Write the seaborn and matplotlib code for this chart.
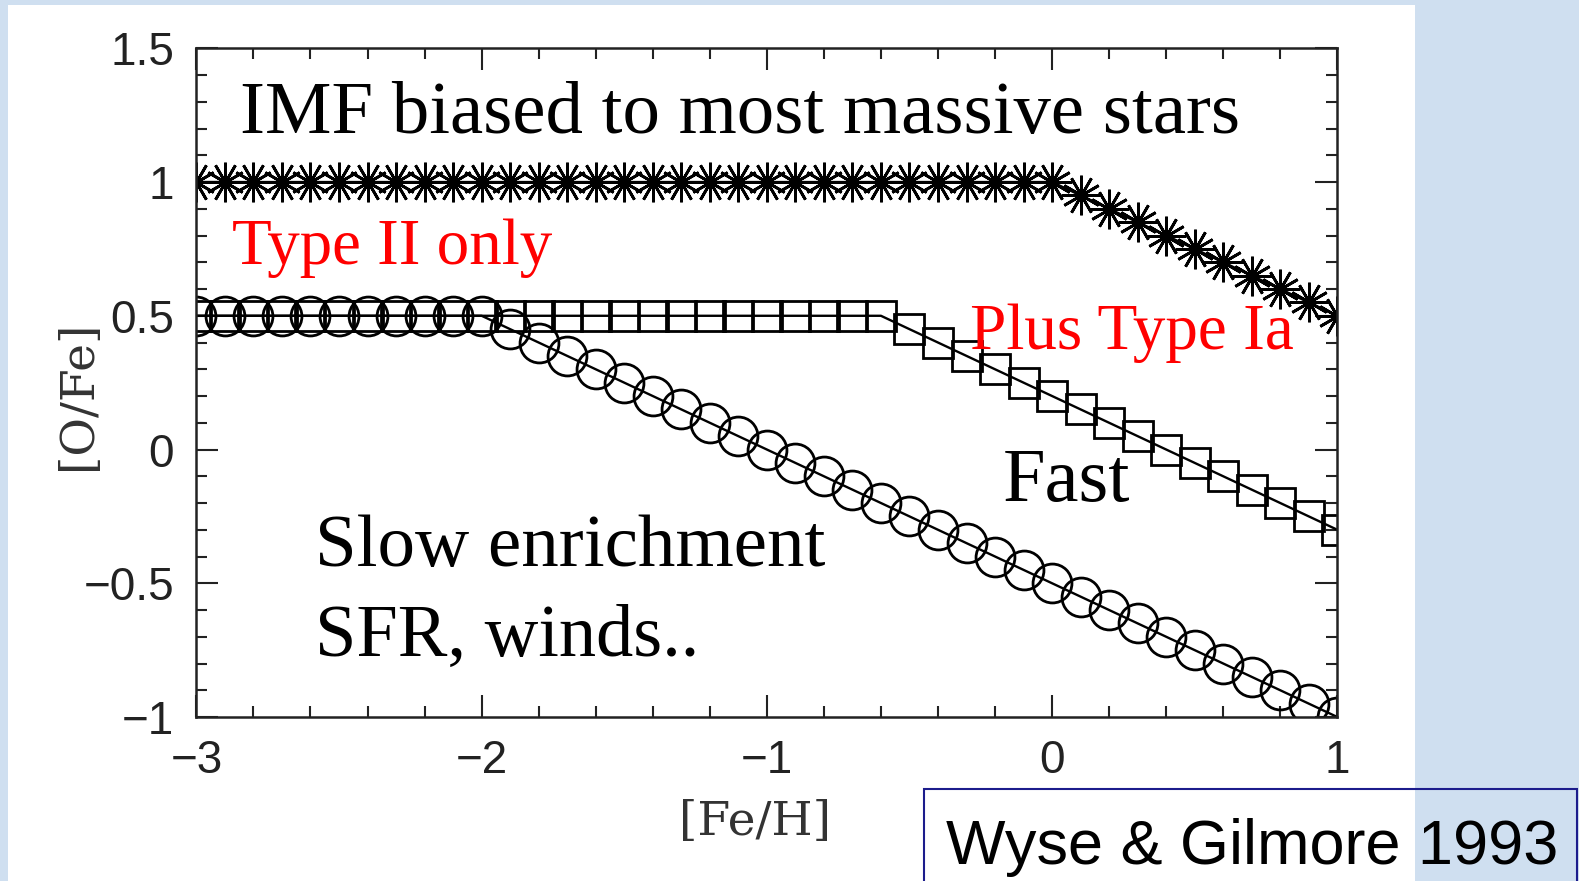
import matplotlib
matplotlib.use("Agg")
import matplotlib.pyplot as plt
from matplotlib.patches import Rectangle
from matplotlib.ticker import MultipleLocator, FixedLocator, FixedFormatter
import numpy as np
import pandas as pd
import seaborn as sns

# [Fe/H] grid shared by the three model tracks
fe_h = [-3.0, -2.9, -2.8, -2.7, -2.6, -2.5, -2.4, -2.3, -2.2, -2.1,
        -2.0, -1.9, -1.8, -1.7, -1.6, -1.5, -1.4, -1.3, -1.2, -1.1,
        -1.0, -0.9, -0.8, -0.7, -0.6, -0.5, -0.4, -0.3, -0.2, -0.1,
        0.0, 0.1, 0.2, 0.3, 0.4, 0.5, 0.6, 0.7, 0.8, 0.9, 1.0]

# [O/Fe] for the IMF biased to the most massive stars (asterisks)
o_fe_massive = [1.0, 1.0, 1.0, 1.0, 1.0, 1.0, 1.0, 1.0, 1.0, 1.0,
                1.0, 1.0, 1.0, 1.0, 1.0, 1.0, 1.0, 1.0, 1.0, 1.0,
                1.0, 1.0, 1.0, 1.0, 1.0, 1.0, 1.0, 1.0, 1.0, 1.0,
                1.0, 0.95, 0.90, 0.85, 0.80, 0.75, 0.70, 0.65, 0.60, 0.55, 0.50]

# [O/Fe] for fast enrichment (squares)
o_fe_fast = [0.5, 0.5, 0.5, 0.5, 0.5, 0.5, 0.5, 0.5, 0.5, 0.5,
             0.5, 0.5, 0.5, 0.5, 0.5, 0.5, 0.5, 0.5, 0.5, 0.5,
             0.5, 0.5, 0.5, 0.5, 0.5, 0.45, 0.40, 0.35, 0.30, 0.25,
             0.20, 0.15, 0.10, 0.05, 0.0, -0.05, -0.10, -0.15, -0.20, -0.25, -0.30]

# [O/Fe] for slow enrichment (circles)
o_fe_slow = [0.5, 0.5, 0.5, 0.5, 0.5, 0.5, 0.5, 0.5, 0.5, 0.5,
             0.5, 0.45, 0.40, 0.35, 0.30, 0.25, 0.20, 0.15, 0.10, 0.05,
             0.0, -0.05, -0.10, -0.15, -0.20, -0.25, -0.30, -0.35, -0.40, -0.45,
             -0.50, -0.55, -0.60, -0.65, -0.70, -0.75, -0.80, -0.85, -0.90, -0.95, -1.0]

x_ticks = [-3, -2, -1, 0, 1]
x_tick_labels = ["\u22123", "\u22122", "\u22121", "0", "1"]
y_ticks = [-1.0, -0.5, 0.0, 0.5, 1.0, 1.5]
y_tick_labels = ["\u22121", "\u22120.5", "0", "0.5", "1", "1.5"]

sns.set_style("ticks")
plt.rcParams["font.family"] = ["Liberation Sans", "DejaVu Sans"]

W, H = 1579, 881
BLUE = "#cfdff0"


def fx(px):
    return px / W


def fy(py):
    return 1 - py / H


fig = plt.figure(figsize=(W / 100, H / 100), dpi=100)
fig.patch.set_facecolor(BLUE)

# white slide panel behind the plot
fig.patches.append(Rectangle((fx(8), 0), fx(1415) - fx(8), fy(5),
                             transform=fig.transFigure, facecolor="white",
                             edgecolor="none", zorder=-10))

ax = fig.add_axes([fx(196.4), fy(717), fx(1337.3) - fx(196.4), (717 - 48.3) / H])
ax.set_zorder(1)
ax.set_facecolor("white")

df = pd.DataFrame({"FeH": fe_h, "massive": o_fe_massive,
                   "fast": o_fe_fast, "slow": o_fe_slow})

line_kw = dict(color="black", linewidth=1.7, markerfacecolor="none",
               markeredgecolor="black", markeredgewidth=2.0, legend=False)

tracks = [("fast", "s", 21.5), ("slow", "o", 28), ("massive", (12, 2, 0), 28.5)]
for col, mk, ms in tracks:
    sns.lineplot(data=df, x="FeH", y=col, ax=ax, marker=mk, markersize=ms, **line_kw)
    ax.lines[-1].set_markersize(ms)

ax.set_xlim(-3, 1)
ax.set_ylim(-1, 1.5)
ax.xaxis.set_major_locator(FixedLocator(x_ticks))
ax.xaxis.set_major_formatter(FixedFormatter(x_tick_labels))
ax.xaxis.set_minor_locator(MultipleLocator(0.2))
ax.yaxis.set_major_locator(FixedLocator(y_ticks))
ax.yaxis.set_major_formatter(FixedFormatter(y_tick_labels))
ax.yaxis.set_minor_locator(MultipleLocator(0.1))

ax.tick_params(which="both", direction="in", top=True, right=True,
               color="#222222", width=1.5)
ax.tick_params(which="major", length=16, labelsize=33, labelcolor="#222222")
ax.tick_params(which="minor", length=8)
ax.tick_params(axis="x", which="major", pad=16)
ax.tick_params(axis="y", which="major", pad=16)
for sp in ax.spines.values():
    sp.set_linewidth(1.8)
    sp.set_color("#222222")

ax.set_xlabel("")
ax.set_ylabel("")
label_font = ["DejaVu Serif"]
fig.text(fx(755), fy(822), "[Fe/H]", family=label_font,
         fontsize=34, color="#333333", ha="center", va="center")
fig.text(fx(78.5), fy(395), "[O/Fe]", family=label_font,
         fontsize=34, color="#333333", ha="center", va="center", rotation=90)

serif = ["Liberation Serif", "DejaVu Serif"]
fig.text(fx(239.7), fy(132.9), "IMF biased to most massive stars", family=serif,
         fontsize=53.8, color="black", ha="left", va="baseline", zorder=3)
fig.text(fx(231.6), fy(263.8), "Type II only", family=serif,
         fontsize=46.8, color="red", ha="left", va="baseline", zorder=3)
fig.text(fx(969.7), fy(349.4), "Plus Type Ia", family=serif,
         fontsize=47, color="red", ha="left", va="baseline", zorder=3)
fig.text(fx(1003), fy(500.5), "Fast", family=serif,
         fontsize=55, color="black", ha="left", va="baseline", zorder=3)
fig.text(fx(315), fy(566), "Slow enrichment", family=serif,
         fontsize=54, color="black", ha="left", va="baseline", zorder=3)
fig.text(fx(315), fy(655.6), "SFR, winds..", family=serif,
         fontsize=53.6, color="black", ha="left", va="baseline", zorder=3)

# citation box in the lower right corner
fig.patches.append(Rectangle((fx(924), -0.02), fx(1577) - fx(924), fy(788.5) + 0.02,
                             transform=fig.transFigure, facecolor="none",
                             edgecolor="#1c1c8c", linewidth=1.5, zorder=5))
fig.text(fx(946), fy(864), "Wyse & Gilmore 1993",
         family=["Liberation Sans", "DejaVu Sans"],
         fontsize=45.4, color="black", ha="left", va="baseline", zorder=6)

fig.savefig("out.png", dpi=100, facecolor=fig.get_facecolor())
